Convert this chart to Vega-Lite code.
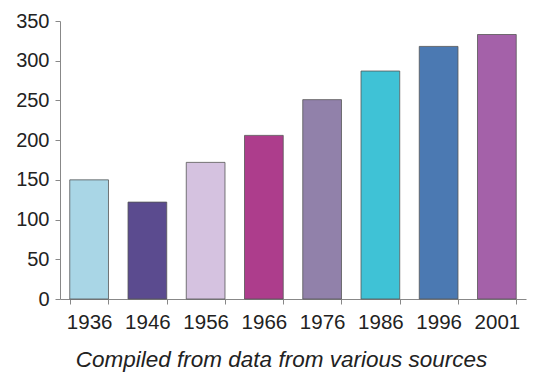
{
  "$schema": "https://vega.github.io/schema/vega-lite/v6.json",
  "autosize": "none",
  "width": 466,
  "height": 278,
  "padding": {"left": 60, "top": 21, "right": 7, "bottom": 79},
  "background": "white",
  "data": {
    "values": [
      {"year": "1936", "value": 150, "c": "#a9d6e6"},
      {"year": "1946", "value": 122, "c": "#5b4b8f"},
      {"year": "1956", "value": 172, "c": "#d5c2e0"},
      {"year": "1966", "value": 206, "c": "#ad3d8c"},
      {"year": "1976", "value": 251, "c": "#9181aa"},
      {"year": "1986", "value": 287, "c": "#3fc2d6"},
      {"year": "1996", "value": 318, "c": "#4b79b2"},
      {"year": "2001", "value": 333, "c": "#a461a9"}
    ]
  },
  "mark": {"type": "bar", "stroke": "#555555", "strokeWidth": 0.8},
  "encoding": {
    "x": {
      "field": "year",
      "type": "nominal",
      "sort": null,
      "scale": {"paddingInner": 0.335, "paddingOuter": 0.1675},
      "axis": {
        "title": "Compiled from data from various sources",
        "titleFont": "Liberation Sans",
        "titleFontStyle": "italic",
        "titleFontWeight": "normal",
        "titleFontSize": 22.5,
        "titleColor": "#222222",
        "titlePadding": 16,
        "titleX": 221,
        "labelAngle": 0,
        "labelFont": "Liberation Sans",
        "labelFontSize": 20.5,
        "labelColor": "#222222",
        "labelPadding": 8,
        "domainColor": "#888888",
        "tickColor": "#888888",
        "tickSize": 5,
        "tickBand": "extent",
        "grid": false
      }
    },
    "y": {
      "field": "value",
      "type": "quantitative",
      "scale": {"domain": [0, 350]},
      "axis": {
        "title": null,
        "values": [0, 50, 100, 150, 200, 250, 300, 350],
        "labelFont": "Liberation Sans",
        "labelFontSize": 20,
        "labelColor": "#222222",
        "labelPadding": 6,
        "domainColor": "#888888",
        "tickColor": "#888888",
        "tickSize": 5,
        "grid": false
      }
    },
    "color": {"field": "c", "type": "nominal", "scale": null, "legend": null}
  },
  "config": {"view": {"stroke": null}}
}
